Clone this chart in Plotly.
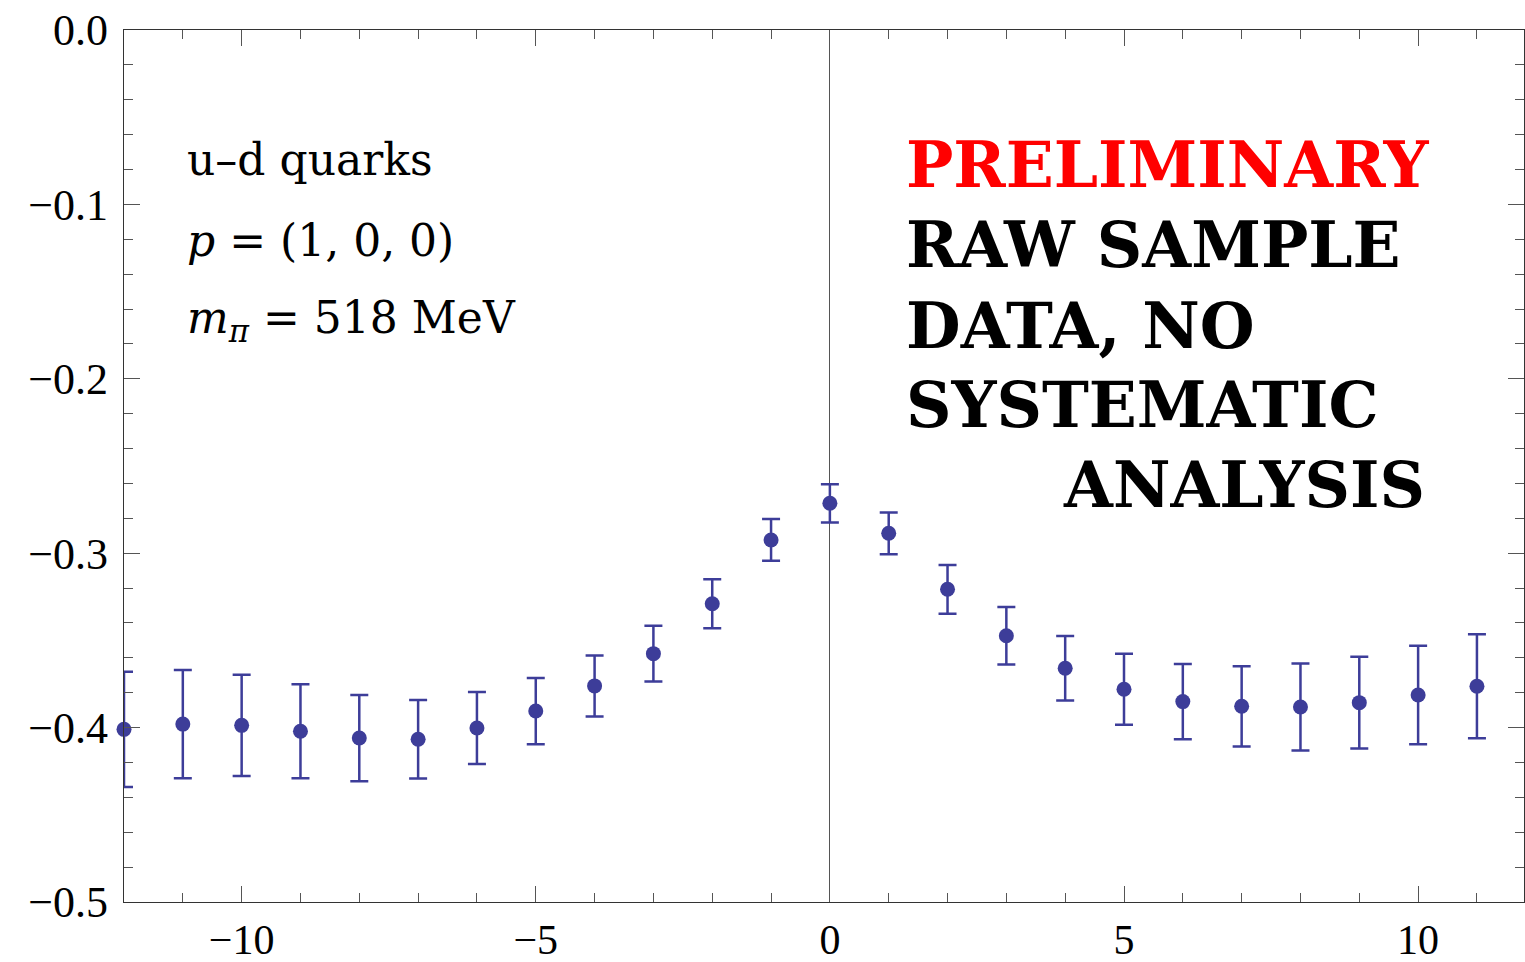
import plotly.graph_objects as go

x_vals = [-12, -11, -10, -9, -8, -7, -6, -5, -4, -3, -2, -1, 0, 1, 2, 3, 4, 5, 6, 7, 8, 9, 10, 11]
y_vals = [-0.401, -0.398, -0.3987, -0.4021, -0.406, -0.4067, -0.4002, -0.3905, -0.3761, -0.3576,
          -0.329, -0.2924, -0.2714, -0.2886, -0.3207, -0.3473, -0.366, -0.378, -0.3851, -0.3878,
          -0.3882, -0.3857, -0.3813, -0.3763]
y_err = [0.033, 0.031, 0.029, 0.027, 0.0247, 0.0225, 0.0206, 0.019, 0.0175, 0.016,
         0.014, 0.012, 0.011, 0.012, 0.014, 0.0165, 0.0185, 0.0204, 0.0216, 0.023,
         0.0249, 0.0263, 0.0282, 0.0298]

x_ticks = [-10, -5, 0, 5, 10]
y_ticks = [0.0, -0.1, -0.2, -0.3, -0.4, -0.5]

col = "#3d3d99"
fig = go.Figure()
fig.add_trace(go.Scatter(
    x=x_vals, y=y_vals, mode="markers",
    marker=dict(color=col, size=15),
    error_y=dict(type="data", array=y_err, visible=True, color=col, thickness=2.5, width=9),
    cliponaxis=False, showlegend=False,
))

axis_common = dict(
    ticks="inside", mirror="allticks", showline=True, linecolor="#333", linewidth=1.2,
    tickcolor="#555", tickwidth=1, showgrid=False, automargin=False,
)
fig.update_xaxes(
    range=[-12, 11.8], tickvals=x_ticks, ticklen=16, ticklabelstandoff=0,
    tickfont=dict(family="Liberation Serif", size=42, color="black"),
    minor=dict(dtick=1, ticks="inside", ticklen=9, tickcolor="#555", showgrid=False),
    zeroline=True, zerolinecolor="#555", zerolinewidth=1.2, **axis_common,
)
fig.update_yaxes(
    range=[-0.5, 0.0], tickvals=y_ticks, tickformat=".1f", ticklen=16, ticklabelstandoff=6,
    tickfont=dict(family="Liberation Serif", size=44, color="black"),
    minor=dict(dtick=0.02, ticks="inside", ticklen=9, tickcolor="#555", showgrid=False),
    zeroline=False, **axis_common,
)

lf = dict(family="DejaVu Serif", size=44, color="black")
left_lines = ["u–d quarks", "<i>p</i> = (1, 0, 0)", "<i>m</i><sub><i>π</i></sub> = 518 MeV"]
left_y = [0.851, 0.759, 0.667]
for t, yy in zip(left_lines, left_y):
    fig.add_annotation(text=t, x=0.0436, y=yy, xref="paper", yref="paper",
                       xanchor="left", yanchor="middle", showarrow=False, font=lf)

rf = dict(family="DejaVu Serif", size=63, color="black", weight="bold")
right_lines = ["PRELIMINARY", "RAW SAMPLE", "DATA, NO", "SYSTEMATIC"]
right_y = [0.845, 0.753, 0.661, 0.570]
for i, (t, yy) in enumerate(zip(right_lines, right_y)):
    f = dict(rf)
    if i == 0:
        f["color"] = "#ff0000"
    fig.add_annotation(text=t, x=0.557, y=yy, xref="paper", yref="paper",
                       xanchor="left", yanchor="middle", showarrow=False, font=f)
fig.add_annotation(text="ANALYSIS", x=0.931, y=0.478, xref="paper", yref="paper",
                   xanchor="right", yanchor="middle", showarrow=False, font=rf)

fig.update_layout(
    width=1525, height=962, margin=dict(l=124, r=1, t=30, b=60),
    plot_bgcolor="white", paper_bgcolor="white",
)
fig.write_html("out.html")
